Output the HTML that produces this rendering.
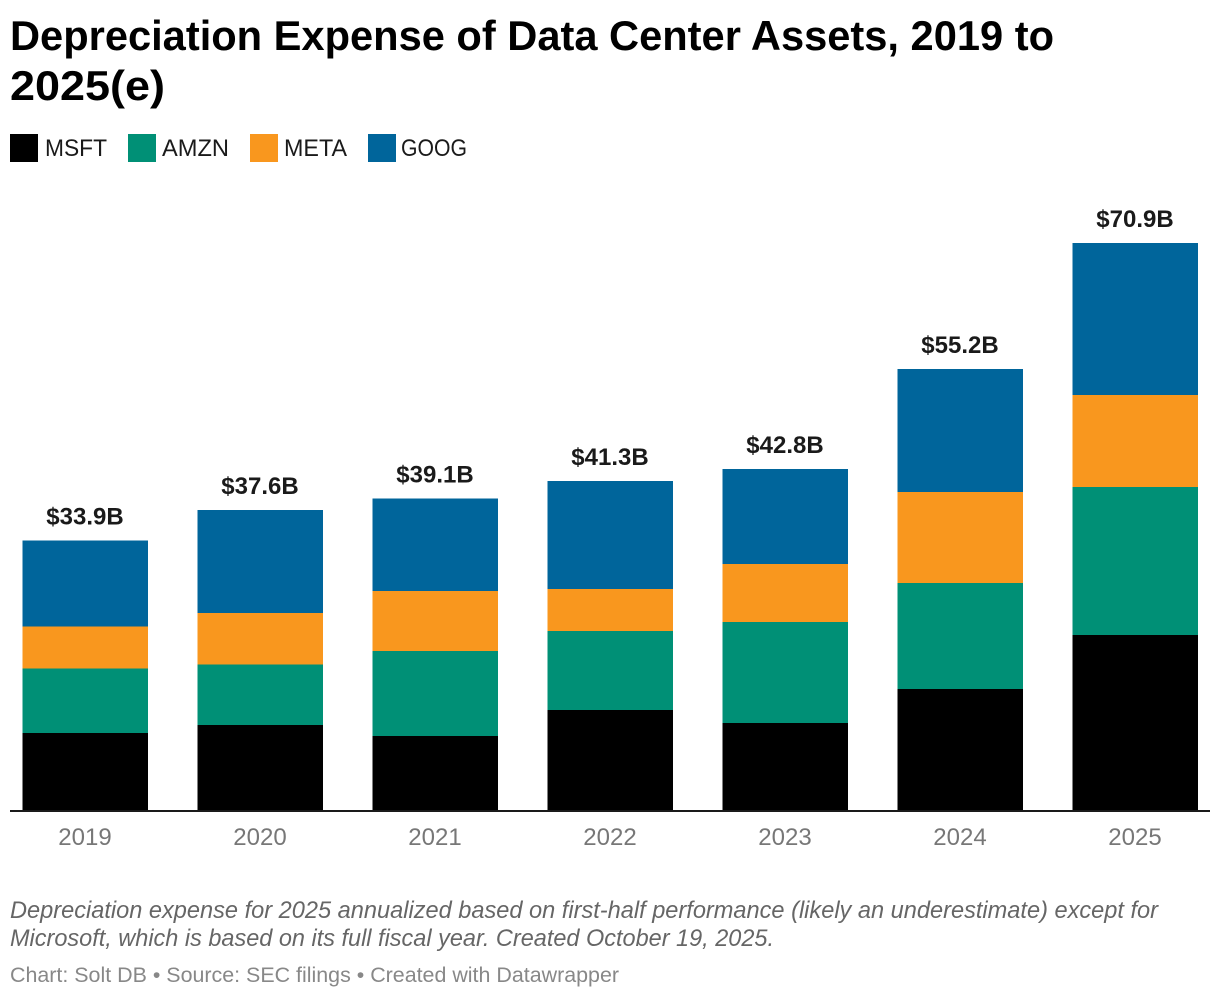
<!DOCTYPE html>
<html lang="en">
<head>
<meta charset="utf-8">
<title>Depreciation Expense of Data Center Assets, 2019 to 2025(e)</title>
<style>
  html, body { margin: 0; padding: 0; background: #fff; }
  body { width: 1220px; height: 1000px; overflow: hidden; }
  svg { display: block; }
  text { font-family: "Liberation Sans", sans-serif; }
</style>
</head>
<body>
<svg id="chart" width="1220" height="1000" viewBox="0 0 1220 1000" xmlns="http://www.w3.org/2000/svg">
  <rect x="0" y="0" width="1220" height="1000" fill="#ffffff"/>
  <g font-size="42" font-weight="700" fill="#000000">
    <text x="10" y="50" textLength="1044" lengthAdjust="spacingAndGlyphs">Depreciation Expense of Data Center Assets, 2019 to</text>
    <text x="10" y="100" textLength="155" lengthAdjust="spacingAndGlyphs">2025(e)</text>
  </g>
  <g font-size="24" fill="#1a1a1a">
    <g>
      <rect x="10" y="134" width="28" height="28" fill="#000000"/>
      <text x="45" y="156" textLength="62" lengthAdjust="spacingAndGlyphs">MSFT</text>
    </g>
    <g>
      <rect x="128" y="134" width="28" height="28" fill="#009076"/>
      <text x="162" y="156" textLength="67" lengthAdjust="spacingAndGlyphs">AMZN</text>
    </g>
    <g>
      <rect x="250" y="134" width="28" height="28" fill="#f9971e"/>
      <text x="284" y="156" textLength="63" lengthAdjust="spacingAndGlyphs">META</text>
    </g>
    <g>
      <rect x="368" y="134" width="28" height="28" fill="#00659b"/>
      <text x="401" y="156" textLength="66" lengthAdjust="spacingAndGlyphs">GOOG</text>
    </g>
  </g>
  <g id="bars" shape-rendering="crispEdges"></g>
  <g id="totals"></g>
  <line x1="10" x2="1210" y1="811" y2="811" stroke="#1a1a1a" stroke-width="2"/>
  <g id="ticks"></g>
  <g font-size="24" font-style="italic" fill="#666666">
    <text x="10" y="918" textLength="1148" lengthAdjust="spacingAndGlyphs">Depreciation expense for 2025 annualized based on first-half performance (likely an underestimate) except for</text>
    <text x="10" y="946" textLength="764" lengthAdjust="spacingAndGlyphs">Microsoft, which is based on its full fiscal year. Created October 19, 2025.</text>
  </g>
  <text x="10" y="982" font-size="21.500" fill="#888888" textLength="609" lengthAdjust="spacingAndGlyphs">Chart: Solt DB • Source: SEC filings • Created with Datawrapper</text>
</svg>
<script>
const categories = ["2019", "2020", "2021", "2022", "2023", "2024", "2025"];
const msftValues = [9.6, 10.6, 9.25, 12.5, 10.9, 15.1, 21.9];
const amznValues = [8.1, 7.6, 10.6, 9.9, 12.6, 13.25, 18.5];
const metaValues = [5.25, 6.4, 7.5, 5.25, 7.25, 11.4, 11.5];
const googValues = [10.75, 12.9, 11.6, 13.5, 11.9, 15.4, 19.0];
const totalLabels = ["$33.9B", "$37.6B", "$39.1B", "$41.3B", "$42.8B", "$55.2B", "$70.9B"];

const NS = "http://www.w3.org/2000/svg";
const seriesList = [
  { key: "msft", color: "#000000", values: msftValues },
  { key: "amzn", color: "#009076", values: amznValues },
  { key: "meta", color: "#f9971e", values: metaValues },
  { key: "goog", color: "#00659b", values: googValues }
];

function yScale(v) { return 810 - v * 8; }
function xCenter(i) { return 85 + i * 175; }
const barWidth = 125.5;

const barsGroup = document.getElementById("bars");
const totalsGroup = document.getElementById("totals");
const ticksGroup = document.getElementById("ticks");

categories.forEach(function (cat, i) {
  let running = 0;
  seriesList.forEach(function (s) {
    const v = s.values[i];
    const y0 = yScale(running);
    const y1 = yScale(running + v);
    const r = document.createElementNS(NS, "rect");
    
    
    r.setAttribute("x", xCenter(i) - barWidth / 2);
    r.setAttribute("y", y1);
    r.setAttribute("width", barWidth);
    r.setAttribute("height", y0 - y1);
    r.setAttribute("fill", s.color);
    barsGroup.appendChild(r);
    running += v;
  });

  const label = document.createElementNS(NS, "text");
  
  
  label.setAttribute("x", xCenter(i));
  label.setAttribute("y", yScale(running) - 16);
  label.setAttribute("text-anchor", "middle");
  label.setAttribute("font-size", "24");
  label.setAttribute("font-weight", "700");
  label.setAttribute("fill", "#1a1a1a");
  label.textContent = totalLabels[i];
  totalsGroup.appendChild(label);

  const tick = document.createElementNS(NS, "text");
  
  
  tick.setAttribute("x", xCenter(i));
  tick.setAttribute("y", 845);
  tick.setAttribute("text-anchor", "middle");
  tick.setAttribute("font-size", "24");
  tick.setAttribute("fill", "#777777");
  tick.textContent = cat;
  ticksGroup.appendChild(tick);
});
</script>
</body>
</html>
